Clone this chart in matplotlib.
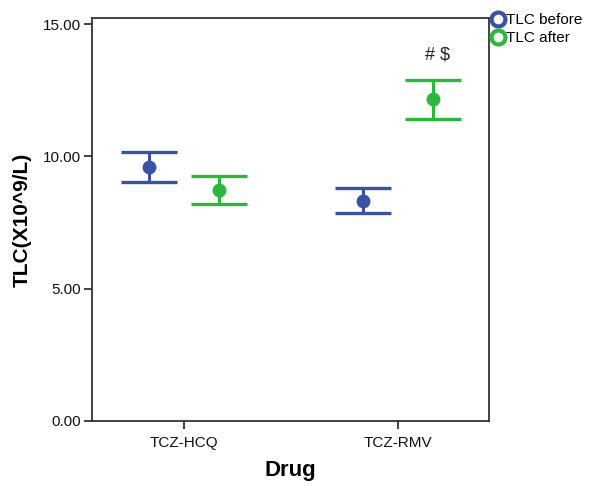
import matplotlib.pyplot as plt
from matplotlib.lines import Line2D
import numpy as np

plt.rcParams['font.family'] = ['Liberation Sans', 'DejaVu Sans']

drugs = ["TCZ-HCQ", "TCZ-RMV"]
series = ["TLC before", "TLC after"]
means = {
    "TLC before": [9.60, 8.31],
    "TLC after": [8.74, 12.15],
}
upper = {
    "TLC before": [10.16, 8.80],
    "TLC after": [9.26, 12.90],
}
lower = {
    "TLC before": [9.03, 7.86],
    "TLC after": [8.20, 11.42],
}
colors = {"TLC before": "#3953a4", "TLC after": "#2db83d"}
offsets = {"TLC before": -0.165, "TLC after": 0.165}
annot_text = "# $"
annot_drug = 1
annot_y = 13.85

fig = plt.figure(figsize=(5.9, 4.87), dpi=100)
ax = fig.add_axes([92 / 590, 66 / 487, 397 / 590, 403 / 487])

x = np.arange(len(drugs))
for s in series:
    m = np.array(means[s])
    err = np.vstack([m - np.array(lower[s]), np.array(upper[s]) - m])
    ax.errorbar(x + offsets[s], m, yerr=err, fmt="o", color=colors[s],
                ms=9, elinewidth=2.2, capsize=20.5, capthick=2.4)
    ax.plot(x + offsets[s], m, ls="none", marker="$\u00b7\u00b7$",
            ms=5, color="#c8e8c8" if s == "TLC after" else "#b8c0e0")

ax.text(annot_drug + offsets["TLC after"] + 0.02, annot_y, annot_text,
        ha="center", va="center", fontsize=13, color="#222222")

ax.set_xlim(-0.43, 1.425)
ax.set_ylim(0, 15.23)
ax.set_yticks([0, 5, 10, 15])
ax.set_yticklabels(["%.2f" % v for v in [0, 5, 10, 15]])
ax.set_xticks(x)
ax.set_xticklabels(drugs)

for sp in ax.spines.values():
    sp.set_color("#333333")
    sp.set_linewidth(1.3)
ax.tick_params(direction="out", length=6, width=1.3, color="#333333",
               labelsize=11, labelcolor="#111111", pad=2)
ax.tick_params(axis="x", pad=5)

ax.set_xlabel("Drug", fontsize=16, fontweight="bold", labelpad=7)
ax.set_ylabel("TLC(X10^9/L)", fontsize=15, fontweight="bold", labelpad=8)

handles = [Line2D([], [], ls="none", marker="o", ms=10, mfc="none",
                  mec=colors[s], mew=3) for s in series]
fig.legend(handles, series, loc="upper left", bbox_to_anchor=(484 / 590, 1 - 7 / 487),
           frameon=False, handletextpad=0.05, handlelength=1.0,
           labelspacing=0.25, fontsize=11, borderaxespad=0)

fig.savefig("out.png", dpi=100)
